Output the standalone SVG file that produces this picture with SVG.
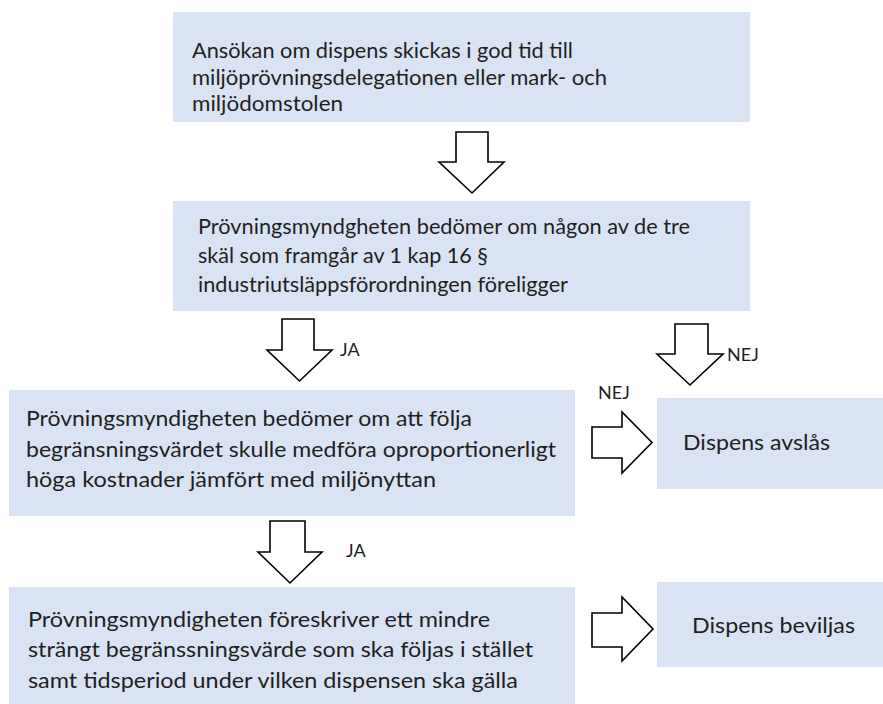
<svg xmlns="http://www.w3.org/2000/svg" width="883" height="704" viewBox="0 0 883 704">
<style>
.box{fill:#DAE3F3;stroke:none}
.t{font-family:Lato,"Liberation Sans",sans-serif;font-size:21px;fill:#1f1f1f}
.t2{font-family:Lato,"Liberation Sans",sans-serif;font-size:21.5px;fill:#1f1f1f}
.lbl{font-family:Lato,"Liberation Sans",sans-serif;font-size:18px;fill:#1f1f1f}
.arr{fill:#ffffff;stroke:#000000;stroke-width:1.6;stroke-linejoin:miter}
</style>
<rect width="883" height="704" fill="#ffffff"/>
<g id="node1">
<rect class="box" x="173" y="12" width="577" height="110"/>
<text class="t" x="192" y="58" textLength="381" lengthAdjust="spacingAndGlyphs">Ansökan om dispens skickas i god tid till</text>
<text class="t" x="192" y="85" textLength="415" lengthAdjust="spacingAndGlyphs">miljöprövningsdelegationen eller mark- och</text>
<text class="t" x="192" y="111" textLength="151" lengthAdjust="spacingAndGlyphs">miljödomstolen</text>
</g>
<g id="node2">
<rect class="box" x="173" y="201" width="577" height="110"/>
<text class="t" x="198" y="234" textLength="492" lengthAdjust="spacingAndGlyphs">Prövningsmyndgheten bedömer om någon av de tre</text>
<text class="t" x="198" y="263" textLength="290" lengthAdjust="spacingAndGlyphs">skäl som framgår av 1 kap 16 §</text>
<text class="t" x="198" y="292" textLength="370" lengthAdjust="spacingAndGlyphs">industriutsläppsförordningen föreligger</text>
</g>
<g id="node3">
<rect class="box" x="9" y="390" width="566" height="126"/>
<text class="t2" x="26" y="426" textLength="446" lengthAdjust="spacingAndGlyphs">Prövningsmyndigheten bedömer om att följa</text>
<text class="t2" x="26" y="457" textLength="530" lengthAdjust="spacingAndGlyphs">begränsningsvärdet skulle medföra oproportionerligt</text>
<text class="t2" x="26" y="487" textLength="410" lengthAdjust="spacingAndGlyphs">höga kostnader jämfört med miljönyttan</text>
</g>
<g id="node4">
<rect class="box" x="657" y="398" width="226" height="91"/>
<text class="t2" x="683" y="450" textLength="147" lengthAdjust="spacingAndGlyphs">Dispens avslås</text>
</g>
<g id="node5">
<rect class="box" x="9" y="587" width="566" height="117"/>
<text class="t2" x="28" y="627" textLength="462" lengthAdjust="spacingAndGlyphs">Prövningsmyndigheten föreskriver ett mindre</text>
<text class="t2" x="28" y="657" textLength="505" lengthAdjust="spacingAndGlyphs">strängt begränssningsvärde som ska följas i stället</text>
<text class="t2" x="28" y="688" textLength="490" lengthAdjust="spacingAndGlyphs">samt tidsperiod under vilken dispensen ska gälla</text>
</g>
<g id="node6">
<rect class="box" x="657" y="582" width="226" height="85"/>
<text class="t2" x="692" y="633" textLength="163" lengthAdjust="spacingAndGlyphs">Dispens beviljas</text>
</g>
<g id="connectors">
<path class="arr" d="M456,132 H488 V162 H504 L472,193 L439,162 H456 Z"/>
<path class="arr" d="M282,319 H314 V350 H332 L299.5,381 L267,350 H282 Z"/>
<text class="lbl" x="340" y="356">JA</text>
<path class="arr" d="M675,324 H708 V354 H723 L690,385 L657,354 H675 Z"/>
<text class="lbl" x="727" y="361">NEJ</text>
<path class="arr" d="M592,427 H622 V412 L652,442.5 L622,473 V458 H592 Z"/>
<text class="lbl" x="598" y="399">NEJ</text>
<path class="arr" d="M270,521 H305 V552 H322 L290,583 L258,552 H270 Z"/>
<text class="lbl" x="346" y="557">JA</text>
<path class="arr" d="M592,613 H622 V597 L653,629 L622,661 V647 H592 Z"/>
</g>
</svg>
